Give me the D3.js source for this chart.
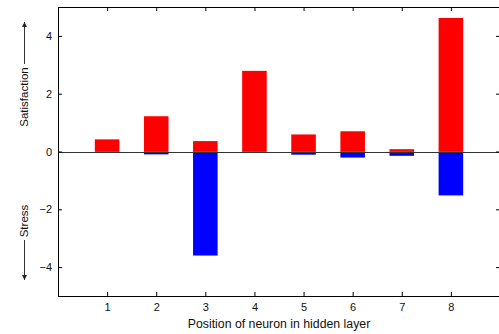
<!DOCTYPE html>
<html>
<head>
<meta charset="utf-8">
<script src="https://cdn.jsdelivr.net/npm/d3@7"></script>
<style>
  body { margin: 0; background: #fff; }
  svg { display: block; font-family: "Liberation Sans", Arial, sans-serif; }
  .axis text { font-size: 11px; fill: #111; }
  .axis path { display: none; }
  .axis line { stroke: #000; }
</style>
</head>
<body>
<svg id="chart" width="499" height="334"></svg>
<script>
// neuron positions and the two responses
const positions = [1, 2, 3, 4, 5, 6, 7, 8];
const satisfaction = [0.42, 1.22, 0.36, 2.79, 0.59, 0.7, 0.08, 4.62];
const stress = [-0.03, -0.1, -3.6, -0.03, -0.11, -0.21, -0.15, -1.52];
const yTicks = [-4, -2, 0, 2, 4];

const svg = d3.select("#chart");
const plotL = 58, plotR = 500, plotT = 7, plotB = 296;

const x = d3.scaleLinear().domain([0, 9]).range([plotL, plotR]);
const y = d3.scaleLinear().domain([-5, 5]).range([plotB, plotT]);
const barW = x(0.5) - x(0);

// red bars (satisfaction)
svg.append("g").selectAll("rect")
  .data(positions)
  .join("rect")
  .attr("x", (d) => x(d) - barW / 2)
  .attr("width", barW)
  .attr("y", (d, i) => y(satisfaction[i]))
  .attr("height", (d, i) => y(0) - y(satisfaction[i]))
  .attr("fill", "#ff0000");

// blue bars (stress)
svg.append("g").selectAll("rect")
  .data(positions)
  .join("rect")
  .attr("x", (d) => x(d) - barW / 2)
  .attr("width", barW)
  .attr("y", y(0))
  .attr("height", (d, i) => y(stress[i]) - y(0))
  .attr("fill", "#0000ff");

// zero line
svg.append("line")
  .attr("x1", plotL).attr("x2", plotR)
  .attr("y1", Math.round(y(0)) + 0.5).attr("y2", Math.round(y(0)) + 0.5)
  .attr("stroke", "#333").attr("stroke-width", 1);

// axes, ticks pointing inward
svg.append("g")
  .attr("class", "axis")
  .attr("transform", "translate(0," + plotB + ")")
  .call(d3.axisBottom(x).tickValues(positions).tickSize(-4).tickPadding(7).tickFormat(d3.format("d")));

svg.append("g")
  .attr("class", "axis")
  .attr("transform", "translate(0," + plotT + ")")
  .call(d3.axisTop(x).tickValues(positions).tickSize(-4).tickFormat(""));

svg.append("g")
  .attr("class", "axis")
  .attr("transform", "translate(" + plotL + ",0)")
  .call(d3.axisLeft(y).tickValues(yTicks).tickSize(-4).tickPadding(6).tickFormat(d3.format("d")));

svg.append("g")
  .attr("class", "axis")
  .attr("transform", "translate(" + plotR + ",0)")
  .call(d3.axisRight(y).tickValues(yTicks).tickSize(-4).tickFormat(""));

// frame
svg.append("rect")
  .attr("x", plotL + 0.5).attr("y", plotT + 0.5)
  .attr("width", plotR - plotL).attr("height", plotB - plotT)
  .attr("fill", "none").attr("stroke", "#000");

// x title
svg.append("text")
  .attr("x", (plotL + plotR) / 2)
  .attr("y", 328)
  .attr("text-anchor", "middle")
  .attr("font-size", 12.3)
  .attr("fill", "#111")
  .text("Position of neuron in hidden layer");

// y titles with arrows
const defs = svg.append("defs");
defs.append("marker")
  .attr("id", "arrow")
  .attr("viewBox", "0 0 10 10")
  .attr("refX", 10).attr("refY", 5)
  .attr("markerWidth", 5).attr("markerHeight", 7)
  .attr("markerUnits", "userSpaceOnUse")
  .attr("orient", "auto")
  .append("path").attr("d", "M0,0L10,5L0,10z").attr("fill", "#222");

svg.append("text")
  .attr("transform", "translate(24,97) rotate(-90)")
  .attr("text-anchor", "middle")
  .attr("dy", "0.35em")
  .attr("font-size", 11.5)
  .attr("fill", "#111")
  .text("Satisfaction");

svg.append("text")
  .attr("transform", "translate(24,221) rotate(-90)")
  .attr("text-anchor", "middle")
  .attr("dy", "0.35em")
  .attr("font-size", 11.5)
  .attr("fill", "#111")
  .text("Stress");

svg.append("line")
  .attr("x1", 24.5).attr("x2", 24.5)
  .attr("y1", 64).attr("y2", 22)
  .attr("stroke", "#333").attr("marker-end", "url(#arrow)");

svg.append("line")
  .attr("x1", 24.5).attr("x2", 24.5)
  .attr("y1", 240).attr("y2", 280)
  .attr("stroke", "#333").attr("marker-end", "url(#arrow)");
</script>
</body>
</html>
